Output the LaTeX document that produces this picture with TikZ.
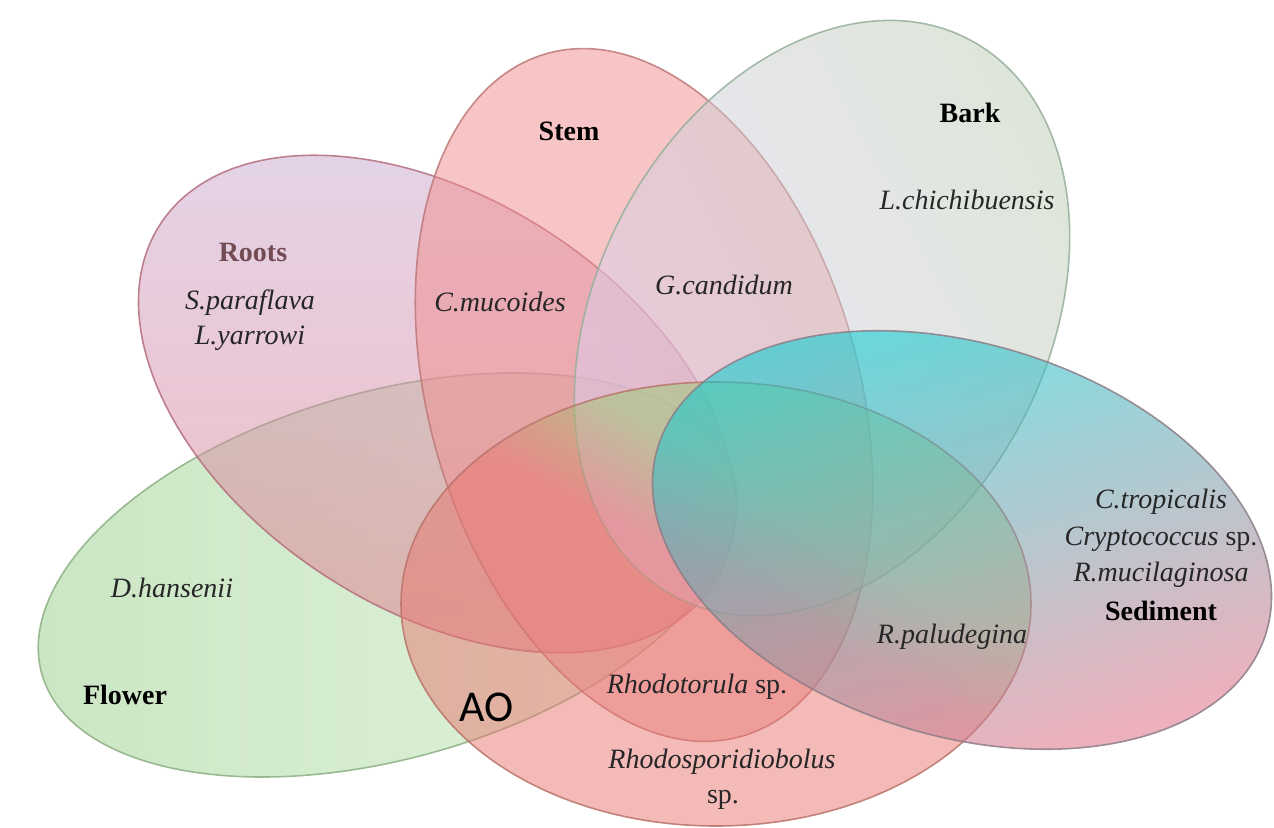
\documentclass[tikz,border=0pt]{standalone}
\usepackage{fontspec}
\setmainfont{Liberation Serif}
\newfontfamily\aofont{Carlito}
\usetikzlibrary{shapes.geometric, positioning}
\definecolor{flowerA}{RGB}{150,205,135}
\definecolor{flowerB}{RGB}{198,234,192}
\definecolor{flowerE}{RGB}{140,175,130}
\definecolor{rootsA}{RGB}{200,170,210}
\definecolor{rootsB}{RGB}{228,115,130}
\definecolor{rootsE}{RGB}{180,110,125}
\definecolor{stemC}{RGB}{240,140,140}
\definecolor{stemE}{RGB}{190,120,120}
\definecolor{barkA}{RGB}{222,208,248}
\definecolor{barkB}{RGB}{188,205,178}
\definecolor{barkE}{RGB}{150,175,155}
\definecolor{sedA}{RGB}{0,212,215}
\definecolor{sedM}{RGB}{70,195,200}
\definecolor{sedB}{RGB}{222,120,140}
\definecolor{sedE}{RGB}{140,125,135}
\definecolor{aoC}{RGB}{232,118,112}
\definecolor{aoT}{RGB}{155,202,112}
\definecolor{aoE}{RGB}{185,115,105}
\definecolor{rootsT}{RGB}{115,75,85}
\pgfdeclareverticalshading{aoshade}{100bp}{color(0bp)=(aoC); color(52bp)=(aoC); color(62bp)=(aoT); color(100bp)=(aoT)}
\tikzset{
	set/.style={ellipse, inner sep=0pt, line width=0.8pt, fill opacity=0.5, draw opacity=0.85},
	species/.style={font=\fontsize{14}{16}\selectfont\itshape, text=black!85},
	place/.style={font=\fontsize{14}{16}\selectfont\bfseries},
}

\begin{document}
\begin{tikzpicture}[x=0.5pt, y=-0.5pt]
	\useasboundingbox (0,0) rectangle (1274,828);
	\node[set, draw=flowerE, left color=flowerA, right color=flowerB, minimum width=360pt, minimum height=183pt, rotate=16] (FLOWER) at (388,575) {};
	\node[set, draw=rootsE, top color=rootsA, bottom color=rootsB, minimum width=330pt, minimum height=205pt, rotate=-33] (ROOTS) at (437,404) {};
	\node[set, draw=stemE, fill=stemC, minimum width=355pt, minimum height=215pt, rotate=106] (STEM) at (644,395) {};
	\node[set, draw=barkE, left color=barkB, right color=barkA, shading angle=-62, minimum width=315pt, minimum height=225pt, rotate=62] (BARK) at (822,318) {};
	\node[set, draw=aoE, shade, shading=aoshade, shading angle=-30, minimum width=315pt, minimum height=222pt] (AO) at (716,604) {};
	\node[set, draw=sedE, top color=sedA, middle color=sedM, bottom color=sedB, shading angle=17, fill opacity=0.58, minimum width=318pt, minimum height=196pt, rotate=-17] (SEDIMENT) at (962,540) {};

	% set names
	\node[place] (stem) at (569,131) {Stem};
	\node[place] (bark) at (970,113) {Bark};
	\node[place, text=rootsT] (roots) at (253,252) {Roots};
	\node[place] (flower) at (125,695) {Flower};
	\node[place] (sediment) at (1161,611) {Sediment};
	\node[font=\aofont\fontsize{22}{24}\selectfont] (ao) at (487,707) {AO};

	% species
	\node[species] (t0) at (967,200) {L.chichibuensis};
	\node[species] (t1) at (250,303) {S.paraflava};
	\node[species] (t2) at (250,338) {L.yarrowi};
	\node[species] (t3) at (500,302) {C.mucoides};
	\node[species] (t4) at (724,285) {G.candidum};
	\node[species] (t5) at (1161,502) {C.tropicalis};
	\node[species] (t6) at (1161,539) {Cryptococcus \upshape sp.};
	\node[species] (t7) at (1161,575) {R.mucilaginosa};
	\node[species] (t8) at (952,637) {R.paludegina};
	\node[species] (t9) at (172,588) {D.hansenii};
	\node[species] (t10) at (697,687) {Rhodotorula \upshape sp.};
	\node[species] (t11) at (722,762) {Rhodosporidiobolus};
	\node[species, font=\fontsize{14}{16}\selectfont\upshape] (t12) at (723,800) {sp.};
\end{tikzpicture}
\end{document}
